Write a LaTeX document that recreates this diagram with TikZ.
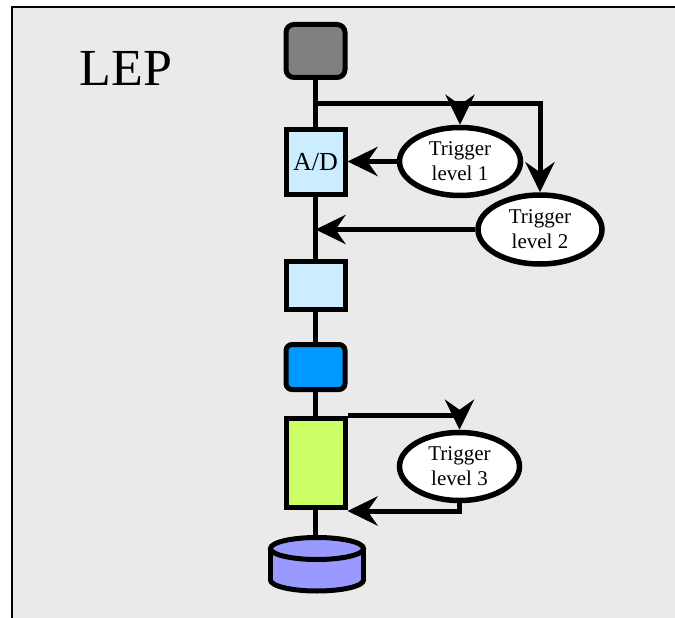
\documentclass[tikz,border=0pt]{standalone}
\usepackage{fontspec}
\setmainfont{Liberation Serif}
\usetikzlibrary{arrows.meta,shapes.geometric}
\definecolor{bg}{HTML}{EAEAEA}
\definecolor{grayc}{HTML}{808080}
\definecolor{lblue}{HTML}{CCECFF}
\definecolor{dblue}{HTML}{0099FF}
\definecolor{lgreen}{HTML}{CCFF66}
\definecolor{cylc}{HTML}{9999FF}
\tikzset{
  box/.style={draw, line width=5pt, minimum width=59pt, inner sep=0pt},
  trig/.style={draw, ellipse, fill=white, line width=5.5pt, inner sep=0pt, align=center,
    font=\fontsize{21}{25}\selectfont},
  conn/.style={line width=5pt},
  arr/.style={line width=5pt, -{Stealth[length=30pt,width=29pt,inset=10pt]}},
}
\begin{document}
\begin{tikzpicture}[x=1pt,y=-1pt]
\useasboundingbox (0,0) rectangle (675,618);
\draw[line width=2pt, fill=bg] (12,7) rectangle (690,640);
\node[font=\fontsize{52}{60}\selectfont] (lep) at (126,68) {LEP};
% boxes
\node[box, fill=grayc, rounded corners=8pt, minimum height=53pt] (gb) at (315.5,51) {};
\node[box, fill=lblue, minimum height=65pt, font=\fontsize{26}{30}\selectfont] (ad) at (315.5,162) {A/D};
\node[box, fill=lblue, minimum height=48pt] (b3) at (315.5,285.5) {};
\node[box, fill=dblue, rounded corners=6pt, minimum height=45pt] (b4) at (315.5,367) {};
\node[box, fill=lgreen, minimum height=89pt] (gr) at (315.5,463) {};
% ellipses
\node[trig, minimum width=121pt, minimum height=68pt] (t1) at (460,161.5) {Trigger\\level 1};
\node[trig, minimum width=124pt, minimum height=69pt] (t2) at (540,229.5) {Trigger\\level 2};
\node[trig, minimum width=120pt, minimum height=68pt] (t3) at (459.5,466.5) {Trigger\\level 3};
% cylinder
\draw[line width=5pt, fill=cylc] (317,580) ellipse[x radius=46.5pt, y radius=11pt];
\fill[cylc] (270.5,548.5) rectangle (363.5,580);
\draw[line width=5pt] (270.5,548.5) -- (270.5,580);
\draw[line width=5pt] (363.5,548.5) -- (363.5,580);
\draw[line width=5pt, fill=cylc] (317,548.5) ellipse[x radius=46.5pt, y radius=11pt];
\coordinate (cyl) at (315.5,537.5);
% main line
\draw[conn] (gb.south) -- (ad.north);
\draw[conn] (ad.south) -- (b3.north);
\draw[conn] (b3.south) -- (b4.north);
\draw[conn] (b4.south) -- (gr.north);
\draw[conn] (gr.south) -- (cyl);
% trigger 1 and 2 loop
\coordinate (j1) at (315.5,103);
\coordinate (c1) at (540,103);
\draw[arr] (j1) -- (c1) -- (t2.north);
\draw[arr] (t1.north |- j1) -- (t1.north);
\draw[arr] (t1.west) -- (t1.west -| ad.east);
\draw[arr] (t2.west) -- (t2.west -| ad.south);
% trigger 3 loop
\coordinate (g3) at (459.5,415);
\draw[arr] (gr.north east |- g3) -- (g3) -- (t3.north);
\coordinate (r3) at (459.5,511);
\draw[arr] (t3.south) -- (r3) -- (r3 -| gr.east);
\end{tikzpicture}
\end{document}
